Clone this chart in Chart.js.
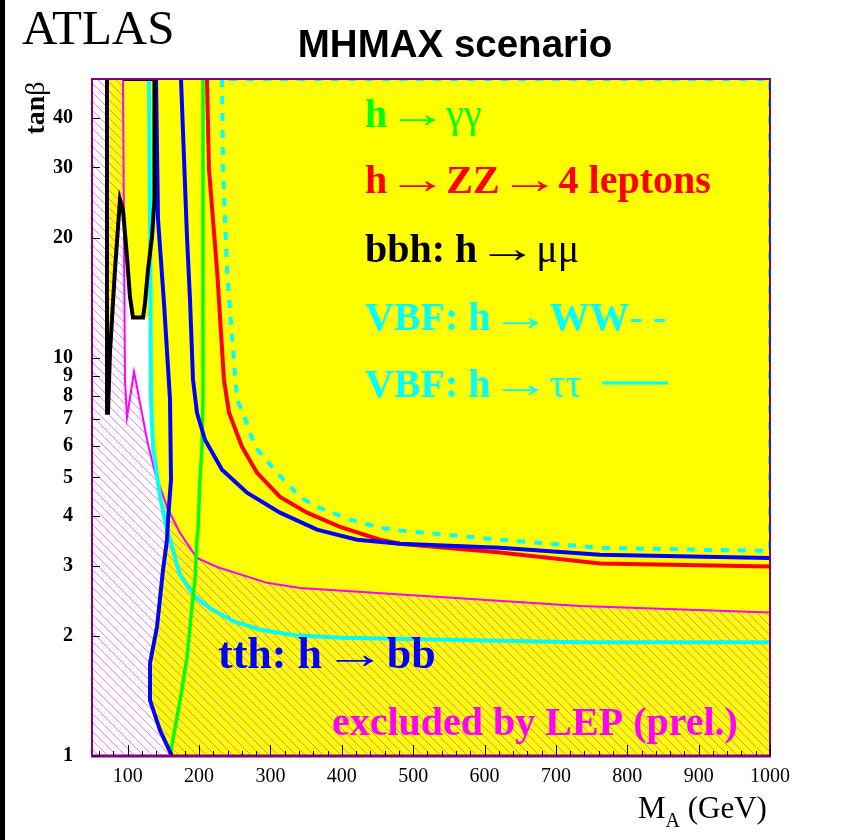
<!DOCTYPE html>
<html><head><meta charset="utf-8">
<script src="https://cdn.jsdelivr.net/npm/chart.js@4.4.1/dist/chart.umd.min.js"></script>
<style>html,body{margin:0;padding:0;background:#fff;}canvas{display:block;}</style>
</head><body>
<canvas id="c" width="852" height="840"></canvas>
<script>
// ---- axis ticks ----
const xTickValues = [100,200,300,400,500,600,700,800,900,1000];
const xTickLabels = ['100','200','300','400','500','600','700','800','900','1000'];
const xMinorTicks = [60,80,120,140,160,180,220,240,260,280,320,340,360,380,420,440,460,480,520,540,560,580,620,640,660,680,720,740,760,780,820,840,860,880,920,940,960,980];
const yTickValues = [1,2,3,4,5,6,7,8,9,10,20,30,40];
const yTickLabels = ['1','2','3','4','5','6','7','8','9','10','20','30','40'];

// ---- contours (M_A in GeV, tan beta) ----
// h -> gamma gamma (green)
const ggX = [205.5,205.5,205.5,204.1,201.3,198.5,197.1,194.3,190.1,183.1,176.1,169.1,159.3];
const ggY = [50,20,7.84,5.97,4.94,3.70,3.49,2.77,2.37,1.77,1.47,1.25,1.0];
// h -> ZZ -> 4 leptons (red)
const zzX = [211.1,213.9,225.2,234.9,242.0,260.2,281.2,313.4,351.3,397.5,453.5,481.6,621.7,761.8,1000];
const zzY = [50,29.7,16.6,8.81,7.27,5.97,5.14,4.47,4.08,3.76,3.49,3.41,3.24,3.04,2.99];
// bbh: h -> mu mu (black)
const bbhX = [71.0,71.0,72.4,75.2,82.2,89.2,93.4,99.0,103.2,107.4,121.5,124.3,128.5,134.1,137.5,137.5,93.4];
const bbhY = [50,7.27,7.27,10.3,16.6,24.9,23.5,17.9,14.2,12.6,12.6,13.7,16.6,20.1,24.9,50,50];
// VBF: h -> WW (cyan dashed)
const wwX = [232.2,233.6,239.2,246.2,253.2,261.6,278.4,309.2,331.6,341.4,365.3,411.5,453.5,481.6,621.7,761.8,1000,1000,232.2];
const wwY = [50,29.7,16.6,11.3,7.84,7.27,5.97,5.14,4.66,4.47,4.22,3.92,3.74,3.68,3.49,3.33,3.27,50,50];
// VBF: h -> tau tau (cyan solid)
const ttX = [129.9,131.5,132.7,135.5,145.3,155.1,159.3,173.3,194.3,218.1,250.4,288.2,334.4,400.3,733.8,1000];
const ttY = [50,20,7.84,5.97,4.47,3.70,3.49,2.85,2.51,2.33,2.17,2.07,2.01,1.98,1.93,1.93];
// tth: h -> bb (blue), left and right branches
const tthAX = [139.7,142.5,150.9,159.3,160.7,156.5,155.1,149.5,141.1,131.3,131.3,145.3,162.1];
const tthAY = [50,22.2,13.7,7.84,4.94,3.92,3.49,2.93,2.11,1.71,1.38,1.16,1.0];
const tthBX = [174.7,183.1,187.3,191.5,197.1,208.3,232.2,267.2,313.4,365.3,421.3,481.6,621.7,761.8,1000];
const tthBY = [50,20.1,14.0,8.81,7.27,6.22,5.23,4.58,4.08,3.70,3.49,3.41,3.33,3.20,3.14];
// LEP exclusion boundary (magenta)
const lepX = [93.4,96.2,99.0,108.9,127.1,138.3,155.1,173.3,197.1,225.2,295.2,341.4,733.8,1000];
const lepY = [50,8.81,7.07,9.22,6.22,5.14,4.22,3.63,3.14,2.98,2.72,2.64,2.38,2.29];
// region with no discovery (white)
const holeX = [50,50,71.0,71.0,72.4,75.2,82.2,89.2,93.4,99.0,103.2,107.4,121.5,130.5,131.5,132.7,135.5,145.3,155.1,155.1,149.5,141.1,131.3,131.3,145.3,162.1];
const holeY = [1,50,50,7.27,7.27,10.3,16.6,24.9,23.5,17.9,14.2,12.6,12.6,12.6,9,7.84,5.97,4.47,3.70,3.49,2.93,2.11,1.71,1.38,1.16,1.0];

const pts = (xs, ys) => xs.map((x, i) => ({x, y: ys[i]}));

const canvas = document.getElementById('c');
const ctx0 = canvas.getContext('2d');
function makeHatch() {
  const s = 9;
  const c = document.createElement('canvas'); c.width = s; c.height = s;
  const g = c.getContext('2d');
  g.strokeStyle = 'rgba(255,0,255,0.5)'; g.lineWidth = 1;
  g.beginPath();
  for (const k of [-1, 0, 1]) { g.moveTo(k*s, 0); g.lineTo(k*s + s, s); }
  g.stroke();
  return ctx0.createPattern(c, 'repeat');
}
const hatch = makeHatch();

const SERIF = '"Liberation Serif", "Times New Roman", serif';
const ARROW = '\u2192';
function rich(ctx, x, y, parts, size, color) {
  let cx = x;
  ctx.fillStyle = color;
  const sc = size / 40;
  for (const p of parts) {
    if (p === ARROW) {
      ctx.font = size + 'px ' + SERIF;
      const m = ctx.measureText(ARROW);
      const inkW = m.actualBoundingBoxLeft + m.actualBoundingBoxRight;
      const target = 36 * sc, k = target / inkW;
      ctx.save(); ctx.translate(cx + 12 * sc, y); ctx.scale(k, 1);
      ctx.fillText(ARROW, m.actualBoundingBoxLeft, 0); ctx.restore();
      cx += (12 + 11) * sc + target;
      continue;
    }
    const [t, b] = p;
    ctx.font = (b ? 'bold ' : '') + size + 'px ' + SERIF;
    ctx.fillText(t, cx, y);
    cx += ctx.measureText(t).width;
  }
  return cx;
}

const decor = {
  id: 'decor',
  beforeDraw(chart) {
    const {ctx} = chart;
    ctx.save();
    ctx.fillStyle = '#fff'; ctx.fillRect(0, 0, chart.width, chart.height);
    ctx.fillStyle = '#000'; ctx.fillRect(0, 0, 5, chart.height);
    ctx.restore();
  },
  beforeDatasetsDraw(chart) {
    const {ctx, chartArea: a} = chart;
    ctx.save(); ctx.fillStyle = '#ffff00';
    ctx.fillRect(a.left, a.top, a.right - a.left, a.bottom - a.top);
    ctx.restore();
  },
  afterDatasetsDraw(chart) {
    const {ctx, chartArea: a} = chart;
    const xs = chart.scales.x, ys = chart.scales.y;
    ctx.save();
    // frame
    ctx.strokeStyle = '#800080'; ctx.lineWidth = 2;
    ctx.strokeRect(a.left, a.top, a.right - a.left, a.bottom - a.top);
    ctx.lineWidth = 3;
    ctx.beginPath(); ctx.moveTo(a.left - 1, a.bottom); ctx.lineTo(a.right + 1, a.bottom); ctx.stroke();
    // inward ticks
    ctx.strokeStyle = '#000'; ctx.lineWidth = 1;
    ctx.beginPath();
    for (const v of yTickValues) { const p = Math.round(ys.getPixelForValue(v)) + 0.5; ctx.moveTo(a.left, p); ctx.lineTo(a.left + 8, p); }
    for (const v of xTickValues) { const p = Math.round(xs.getPixelForValue(v)) + 0.5; ctx.moveTo(p, a.bottom); ctx.lineTo(p, a.bottom - 11); }
    for (const v of xMinorTicks) { const p = Math.round(xs.getPixelForValue(v)) + 0.5; ctx.moveTo(p, a.bottom); ctx.lineTo(p, a.bottom - 5); }
    ctx.stroke();
    // annotations
    ctx.textBaseline = 'alphabetic'; ctx.textAlign = 'left';
    const S = 40;
    rich(ctx, 365, 127, [['h', true], ARROW, ['\u03b3\u03b3', false]], S, '#00ff00');
    rich(ctx, 365, 193, [['h', true], ARROW, ['ZZ', true], ARROW, ['4 leptons', true]], S, '#ff0000');
    rich(ctx, 365, 262, [['bbh: h', true], ARROW, ['\u03bc\u03bc', false]], S, '#000000');
    rich(ctx, 365, 330, [['VBF: h', true], ARROW, ['WW', true], ['- -', false]], S, '#00ffff');
    rich(ctx, 365, 397, [['VBF: h', true], ARROW, ['\u03c4\u03c4', false]], S, '#00ffff');
    ctx.strokeStyle = '#00ffff'; ctx.lineWidth = 3;
    ctx.beginPath(); ctx.moveTo(602, 383); ctx.lineTo(668, 383); ctx.stroke();
    rich(ctx, 218, 668, [['tth: h', true], ARROW, ['bb', true]], 44, '#0000ff');
    rich(ctx, 332, 735, [['excluded by LEP (prel.)', true]], S, '#ff00ff');
    ctx.restore();
  },
  afterDraw(chart) {
    const {ctx} = chart;
    ctx.save();
    ctx.textBaseline = 'alphabetic';
    ctx.fillStyle = '#000';
    ctx.font = '49px ' + SERIF; ctx.textAlign = 'left';
    ctx.fillText('ATLAS', 22, 44);
    ctx.font = 'bold 38.5px "Liberation Sans", Arial, sans-serif'; ctx.textAlign = 'center';
    ctx.fillText('MHMAX scenario', 455, 57);
    // x title
    ctx.textAlign = 'left';
    ctx.font = '31px ' + SERIF; ctx.fillText('M', 638, 818);
    let w = ctx.measureText('M').width;
    ctx.font = '20px ' + SERIF; ctx.fillText('A', 638 + w, 827);
    w += ctx.measureText('A').width;
    ctx.font = '31px ' + SERIF; ctx.fillText(' (GeV)', 638 + w, 818);
    // y title
    ctx.translate(44, 108); ctx.rotate(-Math.PI / 2);
    ctx.font = 'bold 28px ' + SERIF;
    const w1 = ctx.measureText('tan').width;
    ctx.font = '28px ' + SERIF;
    const w2 = ctx.measureText('\u03b2').width;
    rich(ctx, -(w1 + w2) / 2, 0, [['tan', true], ['\u03b2', false]], 28, '#000');
    ctx.restore();
  }
};

const lineDS = (label, xs, ys, color, width, order, extra) => Object.assign({
  label, data: pts(xs, ys), borderColor: color, borderWidth: width, pointRadius: 0,
  fill: false, tension: 0, order
}, extra || {});

new Chart(canvas, {
  type: 'line',
  data: {
    datasets: [
      { label: 'no discovery', data: pts(holeX, holeY), borderWidth: 0, borderColor: 'rgba(0,0,0,0)', backgroundColor: '#ffffff', fill: 'shape', pointRadius: 0, tension: 0, order: 20 },
      { label: 'LEP excluded', data: pts([50, ...lepX, 1000, 50], [50, ...lepY, 1, 1]), borderWidth: 0, borderColor: 'rgba(0,0,0,0)', backgroundColor: hatch, fill: 'shape', pointRadius: 0, tension: 0, order: 19 },
      lineDS('LEP boundary', lepX, lepY, '#ff00ff', 2, 10),
      lineDS('VBF tautau', ttX, ttY, '#00ffff', 4, 8),
      lineDS('VBF WW', wwX, wwY, '#00ffff', 4, 7, { borderDash: [8, 9] }),
      lineDS('h gamma gamma', ggX, ggY, '#00ff00', 3.5, 6),
      lineDS('h ZZ', zzX, zzY, '#ff0000', 4, 5),
      lineDS('tth A', tthAX, tthAY, '#0000ff', 4, 4),
      lineDS('tth B', tthBX, tthBY, '#0000ff', 4, 4),
      lineDS('bbh mumu', bbhX, bbhY, '#000000', 4, 3)
    ]
  },
  options: {
    responsive: false, animation: false, devicePixelRatio: 1,
    layout: { padding: { left: 0, right: 82, top: 79, bottom: 0 } },
    plugins: { legend: { display: false }, tooltip: { enabled: false }, title: { display: false } },
    scales: {
      x: {
        type: 'linear', min: 50, max: 1000,
        afterFit(s) { s.height = 84; },
        afterBuildTicks(s) { s.ticks = xTickValues.map(v => ({ value: v })); },
        grid: { display: false, drawTicks: false }, border: { display: false },
        ticks: { padding: 9, color: '#000', maxRotation: 0, autoSkip: false,
          font: { family: 'Liberation Serif', size: 20 },
          callback: (v, i) => xTickLabels[i] }
      },
      y: {
        type: 'logarithmic', min: 1, max: 50,
        afterFit(s) { s.width = 92; },
        afterBuildTicks(s) { s.ticks = yTickValues.map(v => ({ value: v })); },
        grid: { display: false, drawTicks: false }, border: { display: false },
        ticks: { padding: 19, color: '#000', autoSkip: false,
          font: { family: 'Liberation Serif', size: 20, weight: 'bold' },
          callback: (v, i) => yTickLabels[i] }
      }
    }
  },
  plugins: [decor]
});
</script>
</body></html>
